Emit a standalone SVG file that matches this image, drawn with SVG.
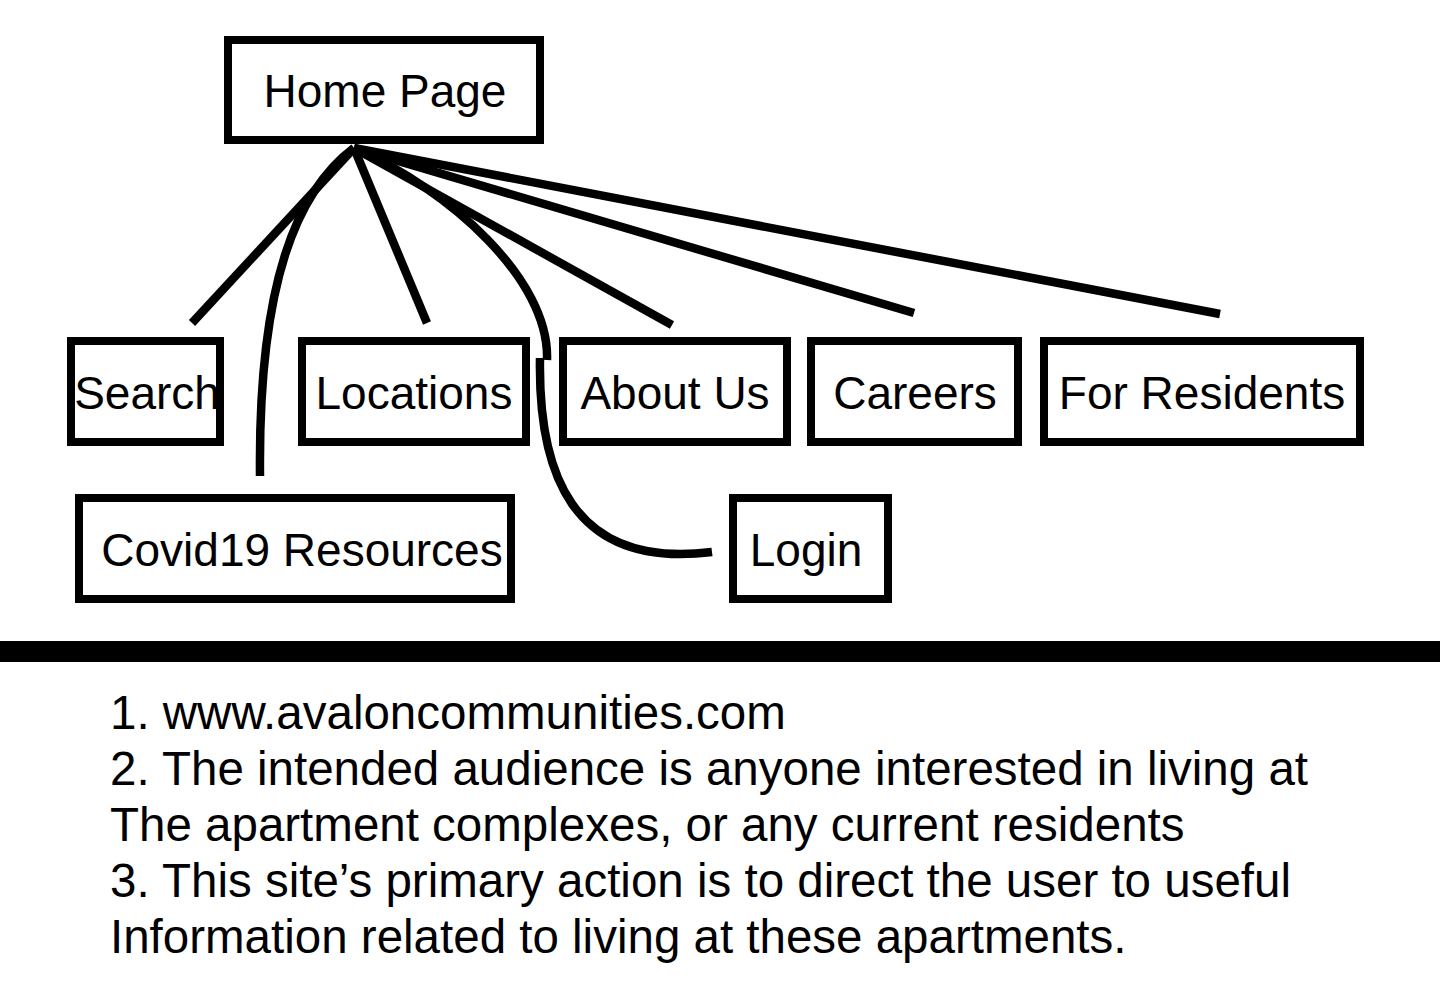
<svg xmlns="http://www.w3.org/2000/svg" width="1440" height="1000" viewBox="0 0 1440 1000">
<style>
.box{fill:#fff;stroke:#000;stroke-width:8}
.lbl{font-family:"Liberation Sans",Arial,sans-serif;font-size:46px;fill:#000;text-anchor:middle}
.con{fill:none;stroke:#000;stroke-width:8.5}
.note{font-family:"Liberation Sans",Arial,sans-serif;font-size:47.5px;fill:#000}
</style>
<rect width="1440" height="1000" fill="#fff"/>
<g id="connectors">
<path class="con" d="M354,148 L192,323"/>
<path class="con" d="M354,148 C298,190 258,280 260,476"/>
<path class="con" d="M354,148 L427,323"/>
<path class="con" d="M354,148 L672,325"/>
<path class="con" d="M354,148 C450,190 550,280 547,360"/>
<path class="con" d="M540,358 C538,470 570,570 712,552"/>
<path class="con" d="M354,148 L914,313"/>
<path class="con" d="M354,148 L1220,314"/>
</g>
<g id="home"><rect class="box" x="228" y="40" width="312" height="100"/><text class="lbl" x="385" y="107">Home Page</text></g>
<g id="search"><rect class="box" x="71" y="341" width="149" height="101"/><text class="lbl" x="147" y="409">Search</text></g>
<g id="locations"><rect class="box" x="302" y="341" width="224" height="101"/><text class="lbl" x="414" y="409">Locations</text></g>
<g id="about"><rect class="box" x="563" y="341" width="224" height="101"/><text class="lbl" x="675" y="409">About Us</text></g>
<g id="careers"><rect class="box" x="811" y="341" width="207" height="101"/><text class="lbl" x="915" y="409">Careers</text></g>
<g id="residents"><rect class="box" x="1044" y="341" width="316" height="101"/><text class="lbl" x="1202" y="409">For Residents</text></g>
<g id="covid"><rect class="box" x="79" y="498" width="432" height="101"/><text class="lbl" x="302" y="566">Covid19 Resources</text></g>
<g id="login"><rect class="box" x="733" y="498" width="155" height="101"/><text class="lbl" x="806" y="566">Login</text></g>
<rect x="0" y="641" width="1440" height="21" fill="#000"/>
<g id="notes">
<text class="note" x="110" y="729">1. www.avaloncommunities.com</text>
<text class="note" x="110" y="785">2. The intended audience is anyone interested in living at</text>
<text class="note" x="110" y="841">The apartment complexes, or any current residents</text>
<text class="note" x="110" y="897">3. This site’s primary action is to direct the user to useful</text>
<text class="note" x="110" y="953">Information related to living at these apartments.</text>
</g>
</svg>
